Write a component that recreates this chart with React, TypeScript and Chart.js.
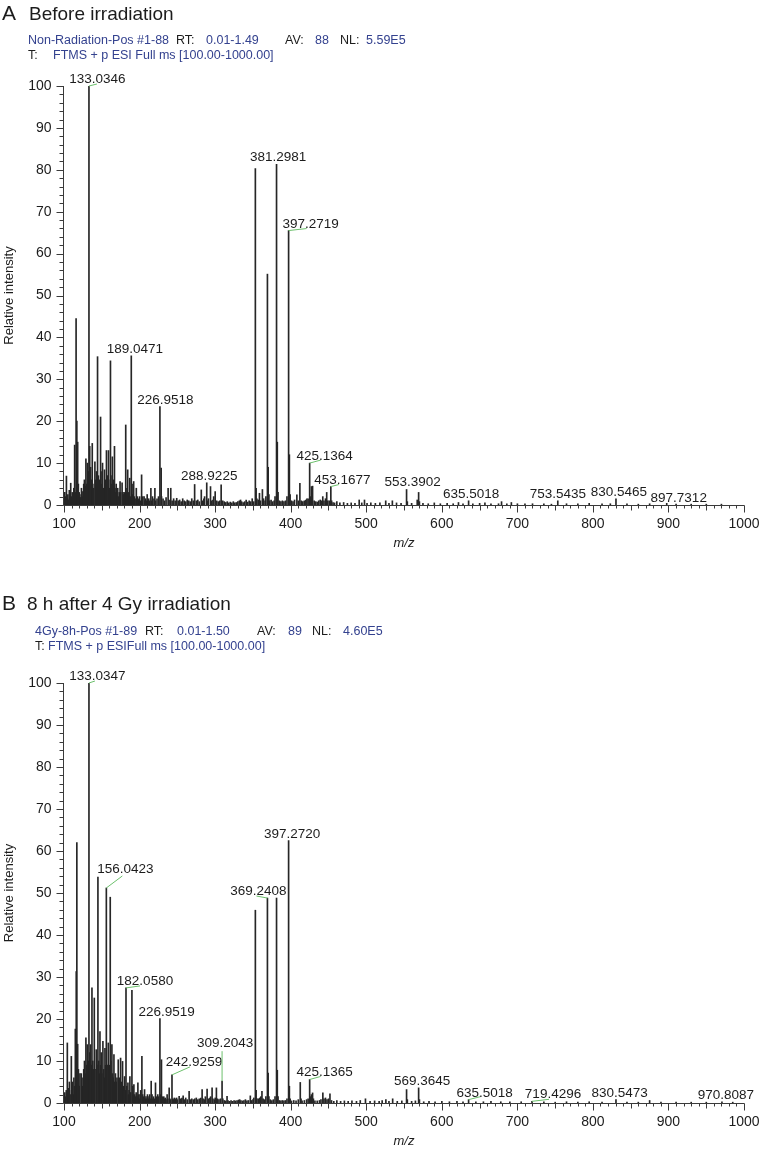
import React, { useEffect, useRef } from "react";
import { Chart, registerables } from "chart.js";

Chart.register(...registerables);

const FONT = '"Liberation Sans", Arial, Helvetica, sans-serif';
const BLUE = "#34428f";
const INK = "#1c1c1c";
const AXIS = "#3a3a3a";
const LEADER = "#6cc06c";
const PEAK = "#262626";

// ---------- tick labels ----------
const xTickLabels = [100, 200, 300, 400, 500, 600, 700, 800, 900, 1000];
const yTickLabels = [0, 10, 20, 30, 40, 50, 60, 70, 80, 90, 100];

// ---------- Panel A: before irradiation (m/z, relative intensity) ----------
const peaksA: [number, number][] = [
  [101.0, 3], [102.1, 2], [103.2, 6.9], [104.5, 1.5], [105.1, 2.5], [106.3, 1.2], [107.0, 3.5], [108.9, 5.2],
  [110.1, 2], [111.0, 3], [112.1, 1.5], [113.0, 4], [114.1, 14.3], [115.0, 3], [116.0, 44.5], [117.0, 20],
  [118.1, 15], [119.0, 5], [120.1, 3], [121.0, 2.5], [122.0, 1.8], [123.1, 4], [124.0, 2], [125.0, 3.2],
  [126.1, 5], [127.0, 6], [128.1, 4.5], [129.0, 11], [130.1, 5], [131.0, 10], [132.1, 8], [133.03, 100],
  [134.04, 14], [135.2, 9], [136.1, 6], [137.4, 14.7], [138.1, 5], [139.0, 4], [140.9, 10.3], [141.9, 6],
  [143.0, 8], [144.4, 35.4], [145.5, 7], [146.1, 5], [147.1, 6], [148.4, 21], [149.0, 8], [150.1, 5],
  [151.0, 10], [152.1, 4], [153.6, 8.4], [154.1, 5], [155.1, 6], [156.2, 13], [157.1, 7], [158.9, 13],
  [159.1, 6], [160.0, 4], [161.5, 34.4], [162.1, 7], [163.1, 5], [164.0, 11.5], [165.1, 6], [166.8, 14],
  [167.5, 4], [168.1, 3], [169.1, 5], [170.1, 3], [171.1, 4], [172.1, 2], [173.1, 3], [174.2, 5.6],
  [175.1, 3], [176.9, 5.3], [178.1, 3], [179.1, 2.5], [180.1, 3], [181.7, 19.1], [182.1, 4], [183.1, 3],
  [184.3, 8.4], [185.1, 3], [186.1, 2], [187.0, 6.4], [188.0, 2], [189.05, 35.6], [190.1, 5], [191.1, 2.5],
  [192.2, 5.6], [193.1, 2], [194.1, 1.5], [195.7, 4], [196.1, 1.5], [197.1, 2], [198.1, 1], [199.1, 1.5],
  [200.1, 2], [201.1, 1], [202.7, 7.2], [203.1, 1.5], [204.1, 2], [206.0, 2], [207.1, 1], [208.1, 1.5],
  [209.1, 1], [210.1, 2.5], [211.1, 1], [212.1, 1.5], [213.1, 1], [215.0, 4], [216.1, 1], [217.1, 2],
  [219.1, 1.5], [220.3, 4], [221.1, 1], [223.1, 1.5], [225.1, 2], [226.95, 23.5], [228.6, 8.8], [229.1, 2],
  [231.1, 1.5], [233.1, 1], [235.1, 1.8], [237.8, 4], [239.1, 1.2], [241.3, 4], [243.1, 1], [245.1, 1.5],
  [247.1, 1], [249.2, 1.6], [251.1, 1], [253.1, 1.2], [255.1, 0.8], [257.1, 1.5], [259.1, 1], [261.1, 0.8],
  [263.1, 1.2], [265.1, 1], [267.1, 0.8], [269.1, 1.5], [271.1, 1], [272.9, 4.9], [275.1, 1], [277.1, 1.2],
  [279.1, 0.8], [281.7, 3.6], [283.1, 1], [285.1, 1.5], [286.1, 2], [288.92, 5.3], [290.1, 1], [291.1, 1.5],
  [293.9, 4.4], [295.1, 1], [297.1, 1.2], [298.1, 2], [300.1, 3.2], [302.1, 1], [304.1, 0.8], [306.1, 1],
  [308.0, 4.8], [310.1, 1], [312.1, 0.8], [314.1, 0.6], [316.1, 0.8], [318.1, 0.5], [320.1, 0.7], [322.1, 0.5],
  [324.1, 0.8], [326.1, 0.5], [328.1, 0.6], [330.1, 0.8], [332.1, 1], [333.7, 1.2], [335.1, 0.8], [337.1, 0.6],
  [339.1, 0.8], [341.1, 1.2], [343.1, 0.7], [345.1, 1], [347.1, 0.8], [349.1, 1.5], [351.1, 0.8], [353.27, 80.3],
  [354.27, 4], [355.3, 1.5], [357.1, 1.2], [358.7, 2.8], [360.1, 1], [362.6, 3.7], [364.1, 1.5], [366.1, 1],
  [367.2, 2], [369.24, 55.1], [370.25, 9], [371.2, 2.5], [372.1, 1], [374.1, 1.2], [376.1, 0.8], [378.1, 1],
  [379.3, 2], [381.3, 81.3], [382.3, 15], [383.3, 3], [385.1, 1], [387.1, 0.8], [389.1, 1], [391.1, 0.8],
  [393.1, 1], [395.1, 2], [397.27, 65.5], [398.28, 12], [399.28, 2.5], [401.1, 1], [403.1, 0.8], [405.1, 1.2],
  [408.2, 2.4], [410.1, 1], [412.2, 5.2], [414.1, 1], [416.1, 0.8], [418.1, 1], [420.1, 1.2], [421.5, 1.5],
  [423.1, 1.5], [425.14, 10], [426.14, 2], [427.5, 4.4], [429.0, 4.5], [431.1, 1], [433.1, 0.8], [435.1, 0.7],
  [437.1, 1], [439.1, 1.2], [441.1, 1], [442.5, 2], [444.1, 1], [446.1, 1.5], [447.7, 3], [449.1, 1],
  [451.1, 1], [453.17, 4.4], [454.2, 1], [456.1, 0.6], [458.1, 0.5], [461.1, 0.8], [465.1, 0.5], [470.1, 0.6],
  [475.1, 0.4], [480.1, 0.5], [485.1, 0.4], [490.7, 1.2], [494.1, 0.5], [497.7, 1.2], [501.1, 0.4], [506.1, 0.5],
  [512.1, 0.4], [518.1, 0.5], [525.8, 1], [530.1, 0.4], [534.6, 1], [540.1, 0.5], [546.1, 0.4], [553.39, 3.7],
  [554.4, 0.8], [560.1, 0.4], [567.5, 1.2], [569.36, 3], [570.4, 0.8], [575.1, 0.4], [582.1, 0.3], [590.1, 0.5],
  [598.1, 0.3], [607.1, 0.4], [615.1, 0.3], [622.1, 0.6], [628.1, 0.3], [635.5, 1], [641.1, 0.3], [650.1, 0.4],
  [657.1, 0.5], [665.1, 0.3], [675.1, 0.3], [679.1, 0.8], [686.1, 0.3], [692.1, 0.6], [700.1, 0.3], [710.1, 0.3],
  [720.1, 0.3], [735.1, 0.3], [745.1, 0.2], [753.54, 1.0], [765.1, 0.3], [780.1, 0.3], [795.1, 0.4], [812.1, 0.3],
  [823.1, 0.3], [830.55, 1.5], [845.1, 0.3], [860.1, 0.2], [875.1, 0.3], [897.73, 0.4], [910.1, 0.2], [930.1, 0.2],
  [950.1, 0.2], [970.1, 0.2],
];
const labelsA = [
  "133.0346", "189.0471", "226.9518", "288.9225", "381.2981", "397.2719", "425.1364",
  "453.1677", "553.3902", "635.5018", "753.5435", "830.5465", "897.7312",
];

// ---------- Panel B: 8 h after 4 Gy irradiation ----------
const peaksB: [number, number][] = [
  [101.0, 2.5], [102.1, 1.5], [103.0, 3], [104.4, 14.3], [105.1, 2], [106.1, 3.5], [107.1, 5], [108.1, 2],
  [109.7, 11.1], [110.1, 3], [111.1, 5], [112.1, 2], [113.1, 6], [114.1, 4], [115.0, 17.6], [116.2, 31.3],
  [117.0, 62], [118.1, 14], [119.1, 8], [120.1, 4], [121.1, 7], [122.9, 7], [124.1, 4], [125.1, 6],
  [126.1, 8], [127.1, 10], [128.1, 7], [129.0, 15.5], [130.1, 9], [130.8, 13.9], [132.1, 10], [133.03, 100],
  [134.04, 12], [135.2, 13.9], [136.1, 9], [137.0, 27.4], [138.1, 10], [139.1, 8], [140.1, 25], [141.1, 8],
  [142.7, 12.7], [143.5, 9], [144.9, 53.8], [145.9, 10], [146.5, 7], [147.6, 17], [148.5, 9], [149.3, 12],
  [150.1, 7], [151.5, 14.7], [152.5, 8], [153.1, 6], [154.2, 13], [155.1, 9], [156.04, 51.2], [157.1, 9],
  [158.6, 14.3], [159.5, 8], [160.2, 9], [161.2, 49], [162.1, 10], [163.4, 13.9], [164.3, 7], [165.1, 6],
  [166.1, 11.5], [167.1, 5], [168.1, 7], [169.1, 5], [170.1, 6], [171.8, 10.3], [172.8, 4], [173.5, 6],
  [174.9, 10.7], [176.1, 5], [177.5, 9.9], [178.5, 4], [179.1, 3], [180.2, 6.3], [181.1, 3], [182.06, 27.4],
  [183.1, 4], [184.6, 4.8], [185.5, 2], [186.1, 3], [187.2, 6.3], [188.1, 2.5], [189.9, 26.8], [190.9, 4],
  [191.5, 2], [192.5, 4.4], [193.5, 2], [194.5, 1.5], [195.5, 2.5], [196.5, 1.5], [197.8, 4.8], [198.5, 2],
  [199.5, 1], [200.5, 2], [201.5, 3], [203.1, 11.1], [204.1, 2], [205.1, 1.5], [206.6, 3.2], [207.5, 1],
  [208.5, 1.5], [209.5, 1], [210.5, 2], [211.5, 1], [212.5, 1.5], [213.5, 2], [214.5, 1], [215.4, 5.2],
  [216.5, 2], [217.5, 1], [218.5, 1.5], [219.5, 1], [221.1, 4.8], [222.1, 1.5], [223.1, 1], [224.1, 2],
  [225.1, 1.5], [226.95, 20.1], [227.9, 2], [229.0, 10.3], [230.1, 1.5], [231.1, 1], [232.1, 1.5], [233.1, 1],
  [234.1, 1.2], [235.1, 0.8], [236.5, 2], [237.5, 1], [239.2, 3.6], [240.1, 1], [241.1, 0.8], [242.93, 6.7],
  [244.1, 1], [245.1, 0.8], [246.1, 1.2], [247.1, 0.8], [248.1, 1], [249.1, 1.2], [250.1, 0.8], [252.4, 1.6],
  [254.1, 1], [255.1, 0.8], [256.1, 1.2], [257.7, 1.7], [259.1, 0.8], [261.1, 1.2], [263.1, 0.8], [265.6, 2.8],
  [267.1, 0.8], [269.1, 1], [271.1, 0.8], [273.1, 1], [275.1, 1.2], [277.1, 0.8], [279.1, 1], [281.1, 1.2],
  [282.8, 3.2], [284.1, 1], [286.1, 0.8], [287.1, 1.5], [289.4, 3.3], [291.1, 1], [293.1, 1.2], [294.1, 1.5],
  [296.0, 3.6], [297.1, 1], [299.1, 0.8], [300.1, 1.2], [301.7, 3.6], [303.1, 1], [305.1, 0.8], [307.1, 1],
  [309.2, 5.2], [310.2, 1], [312.1, 0.6], [314.1, 0.5], [315.8, 1.6], [317.1, 0.6], [319.1, 0.4], [321.1, 0.6],
  [323.1, 0.4], [325.1, 0.6], [327.1, 0.5], [329.1, 0.6], [331.1, 0.7], [332.5, 0.8], [334.1, 0.6], [336.1, 0.5],
  [338.1, 0.6], [340.1, 0.8], [342.1, 0.5], [344.1, 0.6], [346.6, 1.7], [348.1, 0.6], [350.1, 0.8], [351.2, 1.2],
  [353.27, 45.9], [354.27, 3], [355.3, 1], [357.1, 1], [359.1, 1.2], [360.5, 1.5], [362.0, 2.8], [363.5, 1],
  [365.1, 0.8], [367.2, 1.5], [369.24, 48.8], [370.2, 7.1], [371.2, 1.5], [373.1, 0.8], [375.1, 0.6], [377.1, 0.8],
  [379.3, 1.5], [381.3, 48.8], [382.3, 7.8], [383.3, 1.5], [385.1, 0.6], [387.1, 0.5], [389.1, 0.6], [391.1, 0.5],
  [393.1, 0.6], [395.1, 1], [397.27, 62.5], [398.28, 4], [399.3, 1], [401.1, 0.5], [404.1, 0.6], [407.1, 0.5],
  [410.1, 0.8], [412.7, 4.9], [413.7, 1], [415.1, 0.5], [418.1, 0.6], [421.1, 0.8], [423.1, 1], [425.14, 5.6],
  [426.1, 1.5], [427.5, 2], [429.0, 2.4], [430.1, 1], [432.1, 0.5], [435.1, 0.5], [438.1, 0.6], [440.1, 0.8],
  [442.6, 2.4], [444.1, 1], [446.1, 1.2], [448.1, 0.8], [450.1, 1], [452.0, 2.2], [454.1, 0.6], [457.1, 0.4],
  [461.1, 0.6], [466.1, 0.4], [471.1, 0.5], [476.1, 0.4], [481.1, 0.5], [487.1, 0.4], [492.1, 0.6], [499.0, 1],
  [505.1, 0.4], [511.1, 0.5], [517.1, 0.4], [521.1, 0.6], [526.0, 0.8], [530.1, 0.4], [535.0, 1], [541.1, 0.4],
  [547.1, 0.5], [553.39, 3.2], [554.4, 0.8], [560.1, 0.4], [565.1, 0.5], [569.36, 3.6], [570.4, 0.8], [576.1, 0.3],
  [583.1, 0.4], [591.1, 0.3], [600.1, 0.4], [610.1, 0.3], [620.1, 0.4], [628.1, 0.3], [635.5, 0.8], [645.1, 0.3],
  [655.1, 0.3], [665.1, 0.4], [678.1, 0.3], [690.1, 0.3], [705.1, 0.3], [719.43, 0.4], [735.1, 0.3], [750.1, 0.2],
  [765.1, 0.3], [780.1, 0.2], [795.1, 0.3], [812.1, 0.2], [830.55, 0.8], [845.1, 0.2], [860.1, 0.2], [875.1, 0.6],
  [890.1, 0.2], [910.1, 0.2], [930.1, 0.2], [950.1, 0.2], [970.81, 0.3], [985.1, 0.2],
];
const labelsB = [
  "133.0347", "156.0423", "182.0580", "226.9519", "242.9259", "309.2043", "369.2408",
  "397.2720", "425.1365", "569.3645", "635.5018", "719.4296", "830.5473", "970.8087",
];

// ---------- header texts ----------
const headerA1 = ["Non-Radiation-Pos #1-88", "RT:", "0.01-1.49", "AV:", "88", "NL:", "5.59E5"];
const headerA2 = ["T:", "FTMS + p ESI Full ms [100.00-1000.00]"];
const headerB1 = ["4Gy-8h-Pos #1-89", "RT:", "0.01-1.50", "AV:", "89", "NL:", "4.60E5"];
const headerB2 = ["T:", "FTMS + p ESIFull ms [100.00-1000.00]"];

// ---------- layout (positions / styles only) ----------
// label layout: [dx from peak, extra lift, leader dx, leader dy]
const labelLayoutA = [
  [8.5, 0, 8, -2], [3.5, 0, 0, 0], [5.5, 0, 0, 0], [2.5, 0, 0, 0], [1.5, 0, 0, 0], [22, 0, 18, -2], [15, 0, 11, -3],
  [11.6, 0, 8, -2], [6, 0, 0, 0], [2.5, 0, 0, 0], [0, 0, 0, 0], [3, 0, 0, 0], [12, -2, 0, 0],
];
const labelLayoutB = [
  [8.5, 0, 6, -2], [19, 12, 16, -12], [19, 0, 14, -2], [6.7, 0, 0, 0], [22, 6, 18, -8], [3, 31, 0, -30], [-9, 0, -11, -2],
  [3.5, 0, 0, 0], [15, 0, 11, -3], [3.5, 0, 0, 0], [16, 0, 12, -3], [21, 0, 17, -2], [3.7, 0, 0, 0], [4, 0, 0, 0],
];
const headerKinds = ["v", "k", "v", "k", "v", "k", "v"];

type PanelCfg = {
  top: number;
  height: number;
  padding: { left: number; right: number; top: number; bottom: number };
  letter: string;
  title: string;
  titleY: number;
  letterX: number;
  titleX: number;
  line1: string[];
  line1X: number[];
  line1Y: number;
  line2: string[];
  line2X: number[];
  line2Y: number;
  peaks: [number, number][];
  labels: string[];
  labelLayout: number[][];
};

const panelA: PanelCfg = {
  top: 0,
  height: 562,
  padding: { left: 64, right: 18, top: 86, bottom: 57 },
  letter: "A",
  title: "Before irradiation",
  titleY: 20,
  letterX: 2,
  titleX: 29,
  line1: headerA1,
  line1X: [28, 176, 206, 285, 315, 340, 366],
  line1Y: 44,
  line2: headerA2,
  line2X: [28, 53],
  line2Y: 59,
  peaks: peaksA,
  labels: labelsA,
  labelLayout: labelLayoutA,
};

const panelB: PanelCfg = {
  top: 562,
  height: 593,
  padding: { left: 64, right: 18, top: 121, bottom: 52 },
  letter: "B",
  title: "8 h after 4 Gy irradiation",
  titleY: 48,
  letterX: 2,
  titleX: 27,
  line1: headerB1,
  line1X: [35, 145, 177, 257, 288, 312, 343],
  line1Y: 73,
  line2: headerB2,
  line2X: [35, 48],
  line2Y: 88,
  peaks: peaksB,
  labels: labelsB,
  labelLayout: labelLayoutB,
};

function drawDecor(chart: any, cfg: PanelCfg) {
  const ctx: CanvasRenderingContext2D = chart.ctx;
  const a = chart.chartArea;
  const xs = chart.scales.x;
  const ys = chart.scales.y;
  ctx.save();

  // headers
  ctx.textAlign = "left";
  ctx.textBaseline = "alphabetic";
  ctx.fillStyle = INK;
  ctx.font = `21px ${FONT}`;
  ctx.fillText(cfg.letter, cfg.letterX, cfg.titleY);
  ctx.font = `19px ${FONT}`;
  ctx.fillText(cfg.title, cfg.titleX, cfg.titleY);
  ctx.font = `12.5px ${FONT}`;
  cfg.line1.forEach((t, i) => {
    ctx.fillStyle = headerKinds[i] === "k" ? INK : BLUE;
    ctx.fillText(t, cfg.line1X[i], cfg.line1Y);
  });
  cfg.line2.forEach((t, i) => {
    ctx.fillStyle = i === 0 ? INK : BLUE;
    ctx.fillText(t, cfg.line2X[i], cfg.line2Y);
  });

  // axes
  const x0 = Math.round(a.left) - 0.5;
  const y0 = Math.round(a.bottom) + 0.5;
  ctx.strokeStyle = AXIS;
  ctx.lineWidth = 1;
  ctx.beginPath();
  ctx.moveTo(x0, Math.round(a.top));
  ctx.lineTo(x0, y0);
  ctx.lineTo(Math.round(a.right) + 0.5, y0);
  for (let v = 0; v <= 100; v += 2) {
    const y = Math.round(ys.getPixelForValue(v)) + 0.5;
    const len = v % 10 === 0 ? 7 : 4;
    ctx.moveTo(x0 - len, y);
    ctx.lineTo(x0, y);
  }
  for (let v = 100; v <= 1000; v += 10) {
    const x = Math.round(xs.getPixelForValue(v)) + 0.5;
    const len = v % 100 === 0 ? 7 : v % 50 === 0 ? 5 : 3;
    ctx.moveTo(x, y0);
    ctx.lineTo(x, y0 + len);
  }
  ctx.stroke();

  // tick labels
  ctx.fillStyle = INK;
  ctx.font = `14px ${FONT}`;
  ctx.textAlign = "right";
  ctx.textBaseline = "middle";
  yTickLabels.forEach((v) => {
    ctx.fillText(String(v), x0 - 12, ys.getPixelForValue(v));
  });
  ctx.textAlign = "center";
  xTickLabels.forEach((v) => {
    ctx.fillText(String(v), xs.getPixelForValue(v), y0 + 19);
  });

  // axis titles
  ctx.font = `italic 13px ${FONT}`;
  ctx.fillText("m/z", (a.left + a.right) / 2, y0 + 38);
  ctx.save();
  ctx.translate(9, (a.top + a.bottom) / 2);
  ctx.rotate(-Math.PI / 2);
  ctx.font = `13px ${FONT}`;
  ctx.fillText("Relative intensity", 0, 0);
  ctx.restore();

  // peak labels
  ctx.font = `13.5px ${FONT}`;
  ctx.textBaseline = "alphabetic";
  ctx.textAlign = "center";
  cfg.labels.forEach((t, i) => {
    const mz = parseFloat(t);
    let best = cfg.peaks[0];
    cfg.peaks.forEach((p) => {
      if (Math.abs(p[0] - mz) < Math.abs(best[0] - mz)) best = p;
    });
    const [dx, lift, ldx, ldy] = cfg.labelLayout[i];
    const px = xs.getPixelForValue(mz);
    const top = ys.getPixelForValue(best[1]);
    if (ldx !== 0 || ldy !== 0) {
      ctx.strokeStyle = LEADER;
      ctx.lineWidth = 1;
      ctx.beginPath();
      ctx.moveTo(px, top);
      ctx.lineTo(px + ldx, top + ldy);
      ctx.stroke();
    }
    ctx.fillStyle = INK;
    ctx.fillText(t, px + dx, top - 3 - lift);
  });

  ctx.restore();
}

function SpectrumPanel({ cfg }: { cfg: PanelCfg }) {
  const ref = useRef<HTMLCanvasElement>(null);
  useEffect(() => {
    const canvas = ref.current;
    if (!canvas) return;
    const decor = {
      id: "spectrumDecor",
      afterDatasetsDraw(chart: any) {
        drawDecor(chart, cfg);
      },
    };
    const chart = new Chart(canvas, {
      type: "bar",
      data: {
        datasets: [
          {
            data: cfg.peaks.map(([x, y]) => ({ x, y })),
            backgroundColor: PEAK,
            borderWidth: 0,
            barThickness: 1,
          } as any,
        ],
      },
      options: {
        responsive: false,
        animation: false,
        devicePixelRatio: 1,
        events: [],
        layout: { padding: cfg.padding },
        plugins: {
          legend: { display: false },
          tooltip: { enabled: false },
          title: { display: false },
        },
        scales: {
          x: { type: "linear", min: 100, max: 1000, offset: false, display: false },
          y: { type: "linear", min: 0, max: 100, display: false },
        },
      },
      plugins: [decor],
    });
    return () => chart.destroy();
  }, [cfg]);
  return (
    <canvas
      ref={ref}
      width={762}
      height={cfg.height}
      style={{ position: "absolute", left: 0, top: cfg.top, width: 762, height: cfg.height }}
    />
  );
}

export default function App() {
  return (
    <div style={{ position: "absolute", left: 0, top: 0, width: 762, height: 1155, background: "#fff" }}>
      <SpectrumPanel cfg={panelA} />
      <SpectrumPanel cfg={panelB} />
    </div>
  );
}
